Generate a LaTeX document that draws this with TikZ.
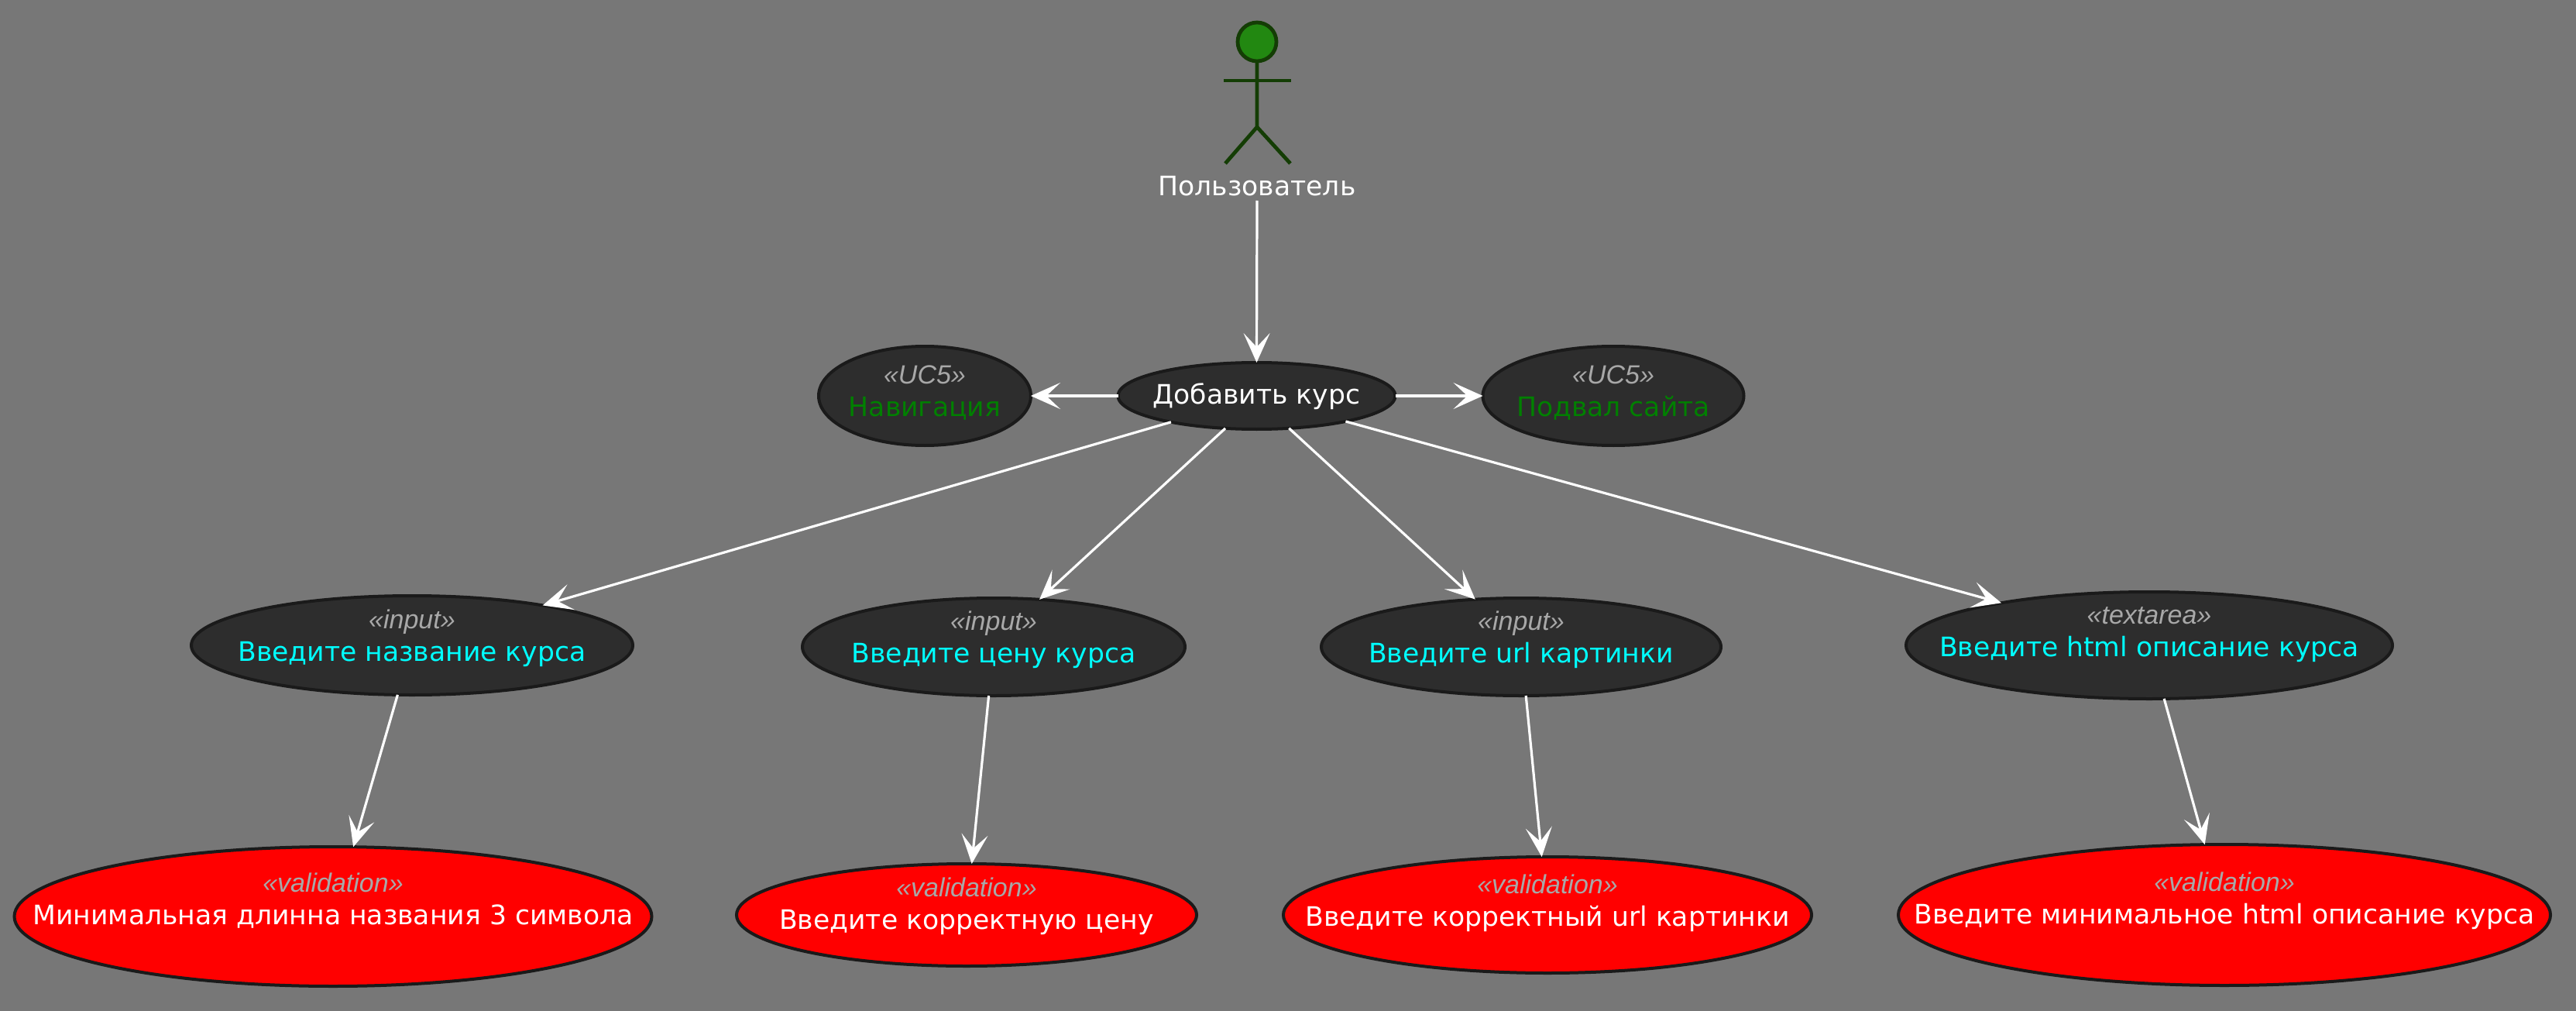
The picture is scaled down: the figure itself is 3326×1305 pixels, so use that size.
\documentclass[tikz,border=0pt]{standalone}
\usepackage{fontspec}
\setmainfont{DejaVu Sans}
\newfontfamily\stereofont{Liberation Sans}
\usetikzlibrary{arrows.meta,shapes.geometric}
\definecolor{bgcolor}{HTML}{777777}
\definecolor{ucfill}{HTML}{2D2D2D}
\definecolor{ucborder}{HTML}{1A1A1A}
\definecolor{stereocolor}{HTML}{A8A8A8}
\definecolor{actorfill}{HTML}{228811}
\definecolor{actorline}{HTML}{143D05}
\definecolor{navcolor}{HTML}{008000}
\definecolor{inputcolor}{HTML}{00FFFF}
% text of zero size, so that the ellipse keeps the given size
\newcommand{\UcText}[4][0pt]{%
    \makebox[0pt]{\smash{\raisebox{#1}{\fontsize{17.3}{21}\selectfont\begin{tabular}{@{}c@{}}%
    {\stereofont\itshape\fontsize{17}{21}\selectfont\color{stereocolor}«#2»}\\%
    \textcolor{#3}{#4}\end{tabular}}}}%
}
\tikzset{
    usecase/.style={ellipse, draw=ucborder, fill=ucfill, line width=2pt, inner sep=0pt, outer sep=0pt, text=white, font=\fontsize{17.3}{21}\selectfont},
    validation/.style={usecase, fill=red},
    flow/.style={draw=white, line width=1.6pt, -{Stealth[length=19pt,width=17pt,inset=9pt]}},
    actorstroke/.style={actorline, line width=2.4pt},
}

\begin{document}
\begin{tikzpicture}[x=0.5pt,y=-0.5pt]
	\fill [bgcolor] (0, 0) rectangle (3326, 1305);
	\draw [actorstroke, fill=actorfill] (1623, 54) circle (12.5pt);
	\draw [actorstroke] (1623, 80) -- (1623, 164) -- (1582, 211);
	\draw [actorstroke] (1623, 164) -- (1666, 211);
	\draw [actorstroke] (1580, 104) -- (1667, 104);
	\node [anchor=south, inner sep=3pt, text=white, font=\fontsize{17.3}{21}\selectfont] (user) at (1623, 259) {Пользователь};

	\node [usecase, minimum width=179pt, minimum height=43pt] (add) at (1622.5, 511) {\makebox[0pt]{\smash{\raisebox{-5pt}{Добавить курс}}}};
	\node [usecase, minimum width=137pt, minimum height=64pt] (nav) at (1194, 511) {\UcText[-3pt]{UC5}{navcolor}{Навигация}};
	\node [usecase, minimum width=168.5pt, minimum height=64pt] (footer) at (2083, 511) {\UcText[-3pt]{UC5}{navcolor}{Подвал сайта}};

	\node [usecase, minimum width=285pt, minimum height=64pt] (name) at (532, 833) {\UcText{input}{inputcolor}{Введите название курса}};
	\node [usecase, minimum width=247pt, minimum height=63pt] (price) at (1283, 835) {\UcText{input}{inputcolor}{Введите цену курса}};
	\node [usecase, minimum width=258pt, minimum height=63pt] (url) at (1964, 835) {\UcText{input}{inputcolor}{Введите url картинки}};
	\node [usecase, minimum width=314pt, minimum height=69pt] (html) at (2775, 833) {\UcText[3pt]{textarea}{inputcolor}{Введите html описание курса}};

	\node [validation, minimum width=411.5pt, minimum height=90pt] (namev) at (430, 1183) {\UcText[5pt]{validation}{white}{Минимальная длинна названия 3 символа}};
	\node [validation, minimum width=297pt, minimum height=66pt] (pricev) at (1248, 1181) {\UcText[1pt]{validation}{white}{Введите корректную цену}};
	\node [validation, minimum width=341pt, minimum height=75pt] (urlv) at (1998, 1181) {\UcText[3pt]{validation}{white}{Введите корректный url картинки}};
	\node [validation, minimum width=421pt, minimum height=91pt] (htmlv) at (2872, 1181) {\UcText[4.5pt]{validation}{white}{Введите минимальное html описание курса}};

	\draw [flow] (user.south) -- (add.north);
	\foreach \from/\to in {add/nav,add/footer,add.197.5/name.17.4,add.226.8/price.46.3,add.-45/url.134.6,add.-16.8/html.164.5,name/namev,price/pricev,url/urlv,html/htmlv}
	{
		\draw [flow] (\from) -- (\to);
	}
\end{tikzpicture}
\end{document}
